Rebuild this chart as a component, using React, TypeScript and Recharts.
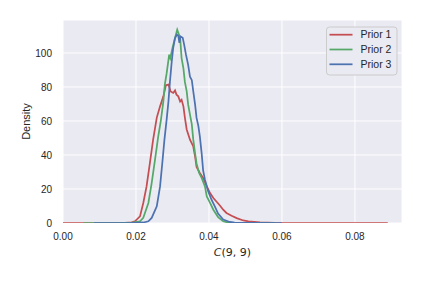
import React from 'react';
import { LineChart, Line, CartesianGrid, XAxis, YAxis } from 'recharts';

// Prior 1 (red)
const p1X = [0, 0.01, 0.017, 0.0188, 0.0197, 0.0211, 0.022, 0.0229, 0.0238, 0.0247, 0.0257, 0.0266, 0.0275, 0.0282, 0.0289, 0.0295, 0.0302, 0.0307, 0.0311, 0.0316, 0.0321, 0.0325, 0.033, 0.0334, 0.0339, 0.0348, 0.0357, 0.0362, 0.0366, 0.0375, 0.0384, 0.0394, 0.0403, 0.0412, 0.0421, 0.043, 0.0439, 0.0448, 0.0462, 0.0476, 0.0494, 0.0508, 0.054, 0.058, 0.07, 0.089];
const p1Y = [0, 0, 0.1, 0.4, 1, 3.9, 11.8, 21.5, 35, 49, 62, 68.6, 74.5, 81, 81.4, 77.4, 76.5, 78, 75.5, 74.5, 71.5, 72.5, 68.6, 62, 55, 49, 45, 39, 33, 29.4, 26.5, 21.5, 17.6, 14.7, 12.5, 10.3, 7.8, 5.9, 4.3, 2.9, 1.5, 1.0, 0.3, 0.05, 0, 0];

// Prior 2 (green)
const p2X = [0.0055, 0.015, 0.019, 0.0211, 0.022, 0.0234, 0.0243, 0.0252, 0.0261, 0.0268, 0.0275, 0.0279, 0.0284, 0.0291, 0.0294, 0.03, 0.0307, 0.0313, 0.0321, 0.0325, 0.033, 0.0334, 0.0339, 0.0343, 0.0348, 0.0353, 0.0357, 0.0362, 0.0366, 0.0373, 0.038, 0.0389, 0.0394, 0.0403, 0.0412, 0.0425, 0.0439, 0.0452, 0.047, 0.058];
const p2Y = [0, 0, 0.2, 1, 3, 11.8, 23.5, 37, 51, 60, 71.5, 81.4, 88, 99, 97, 103, 108.8, 113.7, 108.8, 97, 91, 83, 77.4, 69.6, 63.7, 58, 49, 41, 35, 29.4, 26.5, 21.5, 15.6, 11.8, 7.8, 3.5, 1, 0.3, 0.1, 0];

// Prior 3 (blue)
const p3X = [0.0085, 0.018, 0.022, 0.0234, 0.0243, 0.0257, 0.0266, 0.0272, 0.0278, 0.0284, 0.0289, 0.0293, 0.0298, 0.0302, 0.0307, 0.0312, 0.0316, 0.0319, 0.0322, 0.0328, 0.0332, 0.0337, 0.0343, 0.0348, 0.0353, 0.0357, 0.0362, 0.0366, 0.0371, 0.0375, 0.038, 0.0384, 0.0389, 0.0398, 0.0407, 0.0416, 0.0425, 0.0439, 0.0457, 0.047, 0.052, 0.06];
const p3Y = [0, 0, 0.3, 1, 3, 9.8, 21.5, 35, 49, 60.8, 71.5, 83, 95, 103, 108.8, 110.8, 110, 106, 109.8, 109, 104.9, 99, 93, 86, 84, 77.4, 69.6, 61.8, 57, 51, 41, 31, 25.5, 18.6, 13.7, 9.8, 5.5, 2, 0.6, 0.2, 0.05, 0];

const xTicks = [0, 0.02, 0.04, 0.06, 0.08];
const yTicks = [0, 20, 40, 60, 80, 100];

const toPoints = (xs: number[], ys: number[]) => xs.map((x, i) => ({ x, y: ys[i] }));

const SERIES = [
  { name: 'Prior 1', color: '#C44E52', data: toPoints(p1X, p1Y) },
  { name: 'Prior 2', color: '#55A868', data: toPoints(p2X, p2Y) },
  { name: 'Prior 3', color: '#4C72B0', data: toPoints(p3X, p3Y) },
];

const SANS = '"Liberation Sans", Arial, sans-serif';
const TEXT = '#262626';

const XLabel = (props: any) => {
  const { x, y, width } = props.viewBox;
  return (
    <text x={x + width / 2} y={y + 33} textAnchor="middle" fontFamily='"DejaVu Sans", sans-serif' fontSize={11} fill={TEXT}>
      <tspan fontStyle="italic">C</tspan>(9, 9)
    </text>
  );
};

const YLabel = (props: any) => {
  const { y, height } = props.viewBox;
  const cx = 29.5;
  const cy = y + height / 2;
  return (
    <text x={cx} y={cy} transform={`rotate(-90 ${cx} ${cy})`} textAnchor="middle" fontFamily={SANS} fontSize={11} fill={TEXT}>
      Density
    </text>
  );
};

export default function App() {
  return (
    <div style={{ position: 'absolute', left: 0, top: 0, width: 423, height: 282, background: '#fff' }}>
      <LineChart width={423} height={282} margin={{ top: 20, right: 21, bottom: 0, left: 0 }}>
        <CartesianGrid fill="#EAEAF2" stroke="#fff" strokeWidth={1} />
        <XAxis
          type="number"
          dataKey="x"
          domain={[0, 0.0929]}
          ticks={xTicks}
          tickFormatter={(v: number) => v.toFixed(2)}
          axisLine={false}
          tickLine={false}
          tickSize={0}
          tickMargin={10}
          height={59}
          allowDataOverflow
          tick={{ fill: TEXT, fontSize: 10, fontFamily: SANS }}
          label={<XLabel />}
        />
        <YAxis
          type="number"
          domain={[0, 119.4]}
          ticks={yTicks}
          axisLine={false}
          tickLine={false}
          tickSize={0}
          tickMargin={11}
          width={63}
          allowDataOverflow
          tick={{ fill: TEXT, fontSize: 10, fontFamily: SANS }}
          label={<YLabel />}
        />
        {SERIES.map((s) => (
          <Line
            key={s.name}
            data={s.data}
            dataKey="y"
            name={s.name}
            type="linear"
            stroke={s.color}
            strokeWidth={1.75}
            dot={false}
            activeDot={false}
            isAnimationActive={false}
          />
        ))}
      </LineChart>

      {/* legend, matplotlib style box in the upper right */}
      <svg width={423} height={282} style={{ position: 'absolute', left: 0, top: 0, pointerEvents: 'none' }}>
        <rect x={326.5} y={27} width={70.5} height={48} rx={3} fill="#EAEAF2" stroke="#cccccc" strokeWidth={1} />
        {SERIES.map((s, i) => (
          <g key={s.name}>
            <line x1={329.5} x2={352.5} y1={34.7 + i * 14.8} y2={34.7 + i * 14.8} stroke={s.color} strokeWidth={1.75} />
            <text x={360.5} y={34.7 + i * 14.8 + 3.7} fontFamily={SANS} fontSize={10.5} fill={TEXT}>
              {s.name}
            </text>
          </g>
        ))}
      </svg>
    </div>
  );
}
